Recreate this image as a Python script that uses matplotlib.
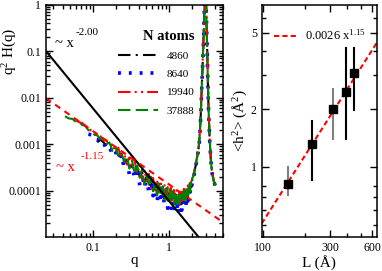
import numpy as np
import matplotlib.pyplot as plt
from matplotlib.lines import Line2D

plt.rcParams['font.family'] = ['Liberation Serif', 'DejaVu Serif']
plt.rcParams['mathtext.fontset'] = 'custom'
plt.rcParams['mathtext.rm'] = 'Liberation Serif'
plt.rcParams['mathtext.it'] = 'Liberation Serif:italic'

# ---- left panel: q^2 H(q) for four system sizes (values in units of 1e-4) ----
q = [0.043, 0.048, 0.054, 0.060, 0.066, 0.072, 0.079, 0.087, 0.095, 0.104,
     0.114, 0.125, 0.137, 0.150, 0.164, 0.180, 0.196, 0.214, 0.233, 0.254,
     0.276, 0.300, 0.325, 0.352, 0.380, 0.410, 0.440, 0.472, 0.505, 0.540,
     0.575, 0.612, 0.650, 0.690, 0.730, 0.772, 0.815, 0.860, 0.905, 0.952,
     1.00, 1.05, 1.10, 1.15, 1.20, 1.25, 1.30, 1.35, 1.40, 1.45,
     1.50, 1.55, 1.60, 1.65, 1.70, 1.75, 1.80, 1.85, 1.90, 1.95,
     2.00, 2.06, 2.12, 2.18, 2.24, 2.30, 2.36, 2.42, 2.48, 2.54,
     2.60, 2.66, 2.72, 2.78, 2.84, 2.90, 2.96, 3.02, 3.08, 3.14,
     3.20, 3.26, 3.32, 3.38, 3.44, 3.50, 3.58, 3.66, 3.74, 3.82,
     3.90, 4.00]

nan = np.nan
h4860 = [nan] * 10 + [
    11, 12.5, 11, 9.2, 9.0, 7.4, 7.6, 5.8, 6.3, 3.4, 4.6, 3.2,
    3.8, 2.5, 3.1, 2.0, 2.5, 1.6, 2.0, 1.25, 1.65, 1.0, 1.4, 0.85, 1.25, 0.75,
    1.1, 0.68, 1.0, 0.62,
    0.95, 0.57, 0.88, 0.53, 0.85, 0.52, 0.82, 0.5, 0.85, 0.52, 0.86, 0.55,
    0.9, 0.6, 1.0, 0.7, 1.15, 0.85, 1.35, 1.2, 1.75,
    1.95, 2.45, 3.1, 3.8, 5.0, 6.4, 8.4, 13, 25, 58, 180, 440, 1200, 3900,
    15000, 25000, 12000, 3000, 900, 200, 60, 25, 12, 7, 4.5, 3.0, 2.3, 1.9,
    1.6, 1.4, 1.3]
h8640 = [nan] * 7 + [
    16.4, 16, 12.8, 12.7, 10.1, 10.8, 7.9, 8.6, 6.0, 7.1, 4.7, 6.0, 3.4, 4.5,
    2.2,
    3.6, 1.8, 3.1, 1.3, 2.4, 1.17, 2.1, 0.85, 1.56, 0.78, 1.38, 0.57, 1.18,
    0.56, 1.15, 0.51, 0.96, 0.42,
    0.92, 0.42, 0.81, 0.36, 0.80, 0.38, 0.71, 0.34, 0.75, 0.38, 0.82, 0.44,
    0.84, 0.48, 0.95, 0.60, 1.07, 0.78, 1.25, 1.14, 1.57,
    1.8, 2.3, 2.9, 3.7, 4.7, 6.2, 8.0, 12, 23, 55, 170, 430, 1100, 3800,
    14000, 24000, 11500, 3100, 870, 210, 58, 26, 11.5, 7.2, 4.3, 3.1, 2.2,
    1.95, 1.55, 1.45, 1.25]
h19940 = [nan] * 3 + [
    32.5, 29.6, 28.6, 25, 22.7, 19.6, 18.4, 15.8, 14.9, 12, 12.1, 9.0, 10.2,
    6.8, 8.4, 5.4, 6.9, 3.7, 5.2,
    3.0, 4.35, 2.3, 3.6, 1.72, 2.8, 1.58, 2.3, 1.14, 1.9, 1.02, 1.7, 0.86,
    1.43, 0.82, 1.38, 0.70, 1.2,
    0.68, 1.15, 0.59, 1.04, 0.60, 1.03, 0.54, 0.99, 0.58, 1.0, 0.60, 1.1,
    0.65, 1.16, 0.77, 1.3, 0.97, 1.46, 1.25, 1.7, 1.8,
    2.2, 2.7, 3.3, 4.2, 5.3, 6.9, 9.0, 14, 26, 65, 190, 470, 1250, 4200,
    16000, 26000, 12500, 3200, 950, 220, 65, 27, 13, 7.5, 4.8, 3.2, 2.5, 2.0,
    1.7, 1.5, 1.35]
h37888 = [
    40, 36, 35, 30, 30, 26, 25, 20, 19.5, 16, 15.5, 13, 12.5, 10, 10.9, 7.2,
    9.0, 5.7, 7.2, 4.2, 5.6, 3.0,
    4.5, 2.25, 3.5, 1.9, 2.9, 1.37, 2.3, 1.24, 2.0, 0.98, 1.5, 0.79, 1.44,
    0.82, 1.25, 0.64, 1.13, 0.62, 1.08,
    0.58, 0.96, 0.50, 0.95, 0.55, 0.88, 0.51, 0.92, 0.55, 0.92, 0.58, 0.99,
    0.64, 1.12, 0.79, 1.28, 0.95, 1.5, 1.28, 1.9,
    2.0, 2.6, 3.0, 4.0, 4.9, 6.6, 8.3, 13.5, 24, 62, 175, 460, 1150, 4100,
    15000, 25000, 12500, 2900, 920, 195, 62, 24, 12.5, 6.8, 4.6, 2.9, 2.4,
    1.85, 1.65, 1.35, 1.3]

sizes = ['4860', '8640', '19940', '37888']
series = [h4860, h8640, h19940, h37888]
colors = ['black', 'blue', 'red', 'green']
styles = [(0, (6, 2.5, 1, 2.5)), (0, (0.8, 2.2)), (0, (6, 2, 1, 2, 1, 2)), (0, (6, 2.5))]
widths = [1.5, 2.6, 1.5, 1.5]

# power-law guides
slope_a, amp_a = -2.00, 5.9e-5
slope_b, amp_b = -1.15, 1.35e-4

# ---- right panel: <h^2> vs L ----
L = [150, 225, 314, 390, 442]
h2 = [0.81, 1.32, 2.0, 2.45, 3.07]
h2_lo = [0.71, 0.85, 1.40, 1.39, 1.98]
h2_hi = [1.00, 1.73, 2.55, 4.14, 4.14]
bar_colors = ['gray', 'black', 'gray', 'black', 'black']
fit_a, fit_b = 0.0026, 1.15

fig = plt.figure(figsize=(3.82, 2.71), dpi=100)
ax1 = fig.add_axes([0.1196, 0.1244, 0.4634, 0.8583])
ax2 = fig.add_axes([0.685, 0.1244, 0.301, 0.8583])

qq = np.array(q)
for h, c, ls, lw, n in zip(series, colors, styles, widths, sizes):
    ax1.plot(qq, np.array(h) * 1e-4, color=c, ls=ls, lw=lw, label=n)

xg = np.array([0.024, 5.0])
ax1.plot(xg, amp_a * xg ** slope_a, color='black', lw=1.5)
ax1.plot(xg, amp_b * xg ** slope_b, color='red', lw=1.5, ls=(0, (3, 2.5)))

ax1.set_xscale('log')
ax1.set_yscale('log')
ax1.set_xlim(0.024, 5.0)
ax1.set_ylim(1e-5, 1)
ax1.set_xticks([0.1, 1], ['0.1', '1'])
ax1.set_yticks([1e-4, 1e-3, 1e-2, 0.1, 1], ['0.0001', '0.001', '0.01', '0.1', '1'])
ax1.set_xlabel('q', fontsize=11, labelpad=0)
ax1.set_ylabel('q$^{2}$ H(q)', fontsize=11)
ax1.yaxis.set_label_coords(-0.15, 0.8)

ax1.text(0.032, 0.15, '~ x', fontsize=10.5, ha='left', va='center')
ax1.text(0.060, 0.25, '-2.00', fontsize=8, ha='left', va='center')
ax1.text(0.033, 3.2e-4, '~ x', fontsize=10.5, color='red', ha='left', va='center')
ax1.text(0.068, 5.4e-4, '-1.15', fontsize=8, color='red', ha='left', va='center')

handles = [Line2D([], [], color=c, ls=ls, lw=lw) for c, ls, lw in zip(colors, styles, widths)]
leg = ax1.legend(handles, sizes, loc='upper right', bbox_to_anchor=(0.865, 0.91),
                 frameon=False, fontsize=8, handlelength=3.6, labelspacing=0.75,
                 title='N atoms', title_fontproperties={'weight': 'bold', 'size': 10.5},
                 alignment='right', borderaxespad=0, handletextpad=0.8)

for i in range(len(L)):
    ax2.plot([L[i], L[i]], [h2_lo[i], h2_hi[i]], color=bar_colors[i], lw=1.5, zorder=2)
ax2.plot(L, h2, 's', color='black', ms=5.5, zorder=3)
Lg = np.array([98, 645])
ax2.plot(Lg, fit_a * Lg ** fit_b, color='red', lw=1.5, ls=(0, (2.5, 1.5)),
         label='0.0026 x$^{1.15}$', zorder=1)

ax2.set_xscale('log')
ax2.set_yscale('log')
ax2.set_xlim(98, 645)
ax2.set_ylim(0.43, 7.0)
ax2.set_xticks([100, 300, 600], ['100', '300', '600'])
ax2.set_xticks([200, 400, 500], minor=True)
ax2.set_xticklabels([], minor=True)
ax2.set_yticks([1, 2, 5], ['1', '2', '5'])
ax2.set_yticks([0.5, 0.6, 0.7, 0.8, 3, 4, 6], minor=True)
ax2.set_yticklabels([], minor=True)
ax2.set_xlabel('L (Å)', fontsize=11, labelpad=1)
ax2.set_ylabel('<h$^{2}$> (Å$^{2}$)', fontsize=11, labelpad=1)
ax2.legend(loc='upper left', bbox_to_anchor=(0.06, 0.92), frameon=False, fontsize=9,
           handlelength=1.8, handletextpad=0.7, borderaxespad=0)

for ax in (ax1, ax2):
    ax.tick_params(which='both', direction='in', top=True, right=True, labelsize=8.5)
    ax.tick_params(which='major', length=5, width=1)
    ax.tick_params(which='minor', length=3, width=1)
    for s in ax.spines.values():
        s.set_linewidth(1.1)

fig.savefig('out.png', dpi=100)
